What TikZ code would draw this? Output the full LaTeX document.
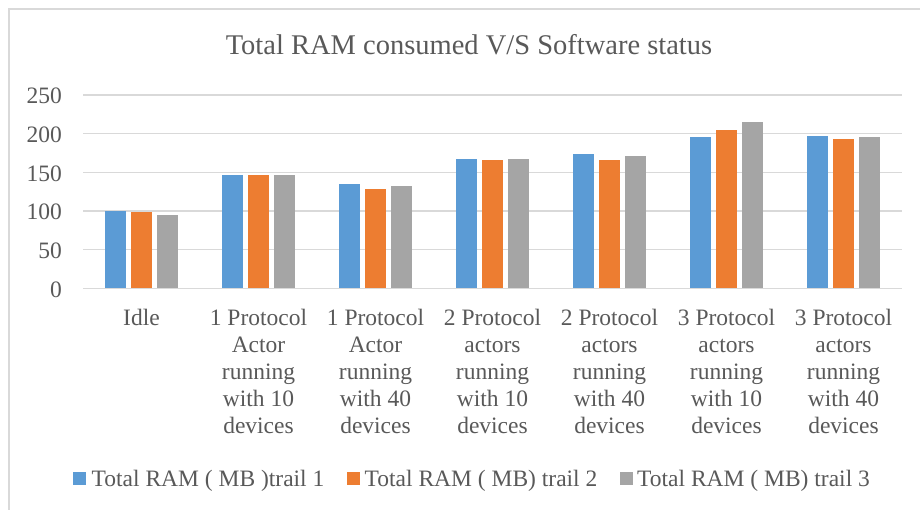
\documentclass[tikz,border=0pt]{standalone}
\usepackage{fontspec}
\setmainfont{Liberation Serif}
\definecolor{txt}{HTML}{595959}
\definecolor{gridc}{HTML}{D9D9D9}
\definecolor{sA}{HTML}{5B9BD5}
\definecolor{sB}{HTML}{ED7D31}
\definecolor{sC}{HTML}{A5A5A5}
\begin{document}
\begin{tikzpicture}[x=1pt,y=-1pt,
  lbl/.style={text=txt,font=\fontsize{23.5}{27}\selectfont,inner sep=0pt},
  catlbl/.style={lbl,align=center,anchor=north},
  gridline/.style={draw=gridc,line width=1.5pt},
  bar/.style={line width=0pt}]
\useasboundingbox (0,0) rectangle (920,510);
\fill[white] (0,0) rectangle (920,510);
\draw[gridline] (9,530) -- (9,9) -- (940,9);
% grid and y labels
\foreach \v [count=\k from 0] in {0,50,100,150,200,250}{
  \coordinate (g\k) at (83,288.3-\k*38.66);
  \draw[gridline] (g\k) -- ++(819,0);
  \node[lbl,anchor=base east] (y\k) at (62,297.3-\k*38.66) {\v};
}
% bars
\foreach \i/\a/\b/\c in {0/100/99/95,1/147/146/147,2/135/128/132,3/167.6/166/166.8,4/173.7/166.3/170.7,5/196/204.3/215,6/197/193/196}{
  \pgfmathsetmacro{\cx}{83+117*(\i+0.5)}
  \fill[sA] (\cx-36.25,288.3) rectangle (\cx-15.75,288.3-\a*0.7732);
  \fill[sB] (\cx-10.25,288.3) rectangle (\cx+10.25,288.3-\b*0.7732);
  \fill[sC] (\cx+15.75,288.3) rectangle (\cx+36.25,288.3-\c*0.7732);
}
\draw[gridline] (g0) -- ++(819,0);
% title
\node[text=txt,font=\fontsize{28.5}{32}\selectfont,inner sep=0pt,anchor=base] (title) at (469,55) {Total RAM consumed V/S Software status};
% category labels
\node[catlbl] (c0) at (141.5,308.5) {Idle};
\node[catlbl] (c1) at (258.5,308.5) {1 Protocol\\Actor\\running\\with 10\\devices};
\node[catlbl] (c2) at (375.5,308.5) {1 Protocol\\Actor\\running\\with 40\\devices};
\node[catlbl] (c3) at (492.5,308.5) {2 Protocol\\actors\\running\\with 10\\devices};
\node[catlbl] (c4) at (609.5,308.5) {2 Protocol\\actors\\running\\with 40\\devices};
\node[catlbl] (c5) at (726.5,308.5) {3 Protocol\\actors\\running\\with 10\\devices};
\node[catlbl] (c6) at (843.5,308.5) {3 Protocol\\actors\\running\\with 40\\devices};
% legend
\fill[sA] (73,471.5) rectangle (86,484.5);
\node[lbl,anchor=base west] (l1) at (91.5,486.7) {Total RAM ( MB )trail 1};
\fill[sB] (347,471.5) rectangle (360,484.5);
\node[lbl,anchor=base west] (l2) at (364.5,486.7) {Total RAM ( MB) trail 2};
\fill[sC] (620,471.5) rectangle (633,484.5);
\node[lbl,anchor=base west] (l3) at (637,486.7) {Total RAM ( MB) trail 3};
\end{tikzpicture}
\end{document}
